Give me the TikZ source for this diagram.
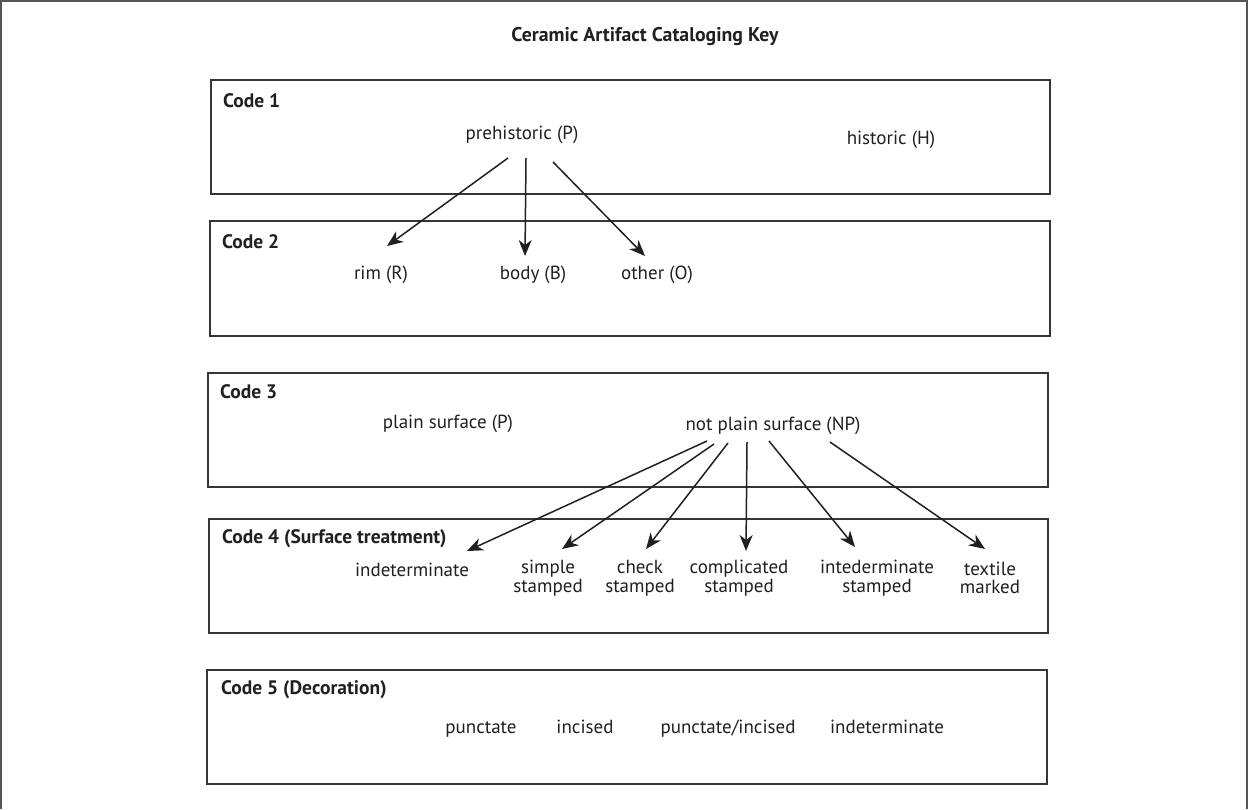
\documentclass[tikz,border=0pt]{standalone}
\usepackage{fontspec}
\setmainfont{PT Sans}
\usetikzlibrary{arrows.meta}
\definecolor{ink}{HTML}{231F20}
\definecolor{frame}{HTML}{555555}
\tikzset{
  codebox/.style={draw=ink!90, line width=1.6pt},
  codelabel/.style={anchor=west, font=\fontsize{19.5}{20}\selectfont\bfseries, text=ink, inner sep=0pt},
  item/.style={font=\fontsize{19}{18.5}\selectfont, text=ink, inner sep=0pt, align=center},
  oneline/.style={item, text height=14pt, text depth=0pt},
  arr/.style={draw=ink, line width=1.5pt, -{Stealth[length=16pt,width=13pt,inset=5pt]}}
}
\begin{document}
\begin{tikzpicture}[x=1pt,y=-1pt]
\useasboundingbox (0,0) rectangle (1249,809);
% outer frame (left, top, right)
\draw[frame, line width=2pt] (1,809) -- (1,1) -- (1247,1) -- (1247,809);
% title
\node[font=\fontsize{19.8}{20}\selectfont\bfseries, text=ink, inner sep=0pt] (title) at (645,37) {Ceramic Artifact Cataloging Key};
% boxes
\draw[codebox] (211,80) rectangle (1050,194);
\draw[codebox] (210,221) rectangle (1050,336);
\draw[codebox] (208,373) rectangle (1048,487);
\draw[codebox] (209,519) rectangle (1048,633);
\draw[codebox] (207,670) rectangle (1047,784);
% code labels
\node[codelabel] (c1) at (223,101) {Code 1};
\node[codelabel] (c2) at (222,242) {Code 2};
\node[codelabel] (c3) at (220,392) {Code 3};
\node[codelabel] (c4) at (222,539) {Code 4 (Surface treatment)};
\node[codelabel] (c5) at (221,690) {Code 5 (Decoration)};
% code 1
\node[oneline] (pre) at (522,132) {prehistoric (P)};
\node[oneline] (his) at (891,137) {historic (H)};
% code 2
\node[oneline] (rim) at (381,272) {rim (R)};
\node[oneline] (body) at (533,272) {body (B)};
\node[oneline] (other) at (657,272) {other (O)};
% code 3
\node[oneline] (plain) at (448,421) {plain surface (P)};
\node[oneline] (np) at (773,423) {not plain surface (NP)};
% code 4
\node[oneline] (ind) at (412,569) {indeterminate};
\node[item] (simple) at (548,578) {simple\\stamped};
\node[item] (check) at (640,578) {check\\stamped};
\node[item] (compl) at (739,578) {complicated\\stamped};
\node[item] (intd) at (877,578) {intederminate\\stamped};
\node[item] (tex) at (990,578) {textile\\marked};
% code 5
\node[oneline] (punct) at (481,726) {punctate};
\node[oneline] (incis) at (585,726) {incised};
\node[oneline] (pi) at (728,726) {punctate/incised};
\node[oneline] (ind5) at (887,726) {indeterminate};
% arrow anchor points
\coordinate (p1) at (508,158);
\coordinate (p2) at (526,158);
\coordinate (p3) at (553,162);
\coordinate (r1) at (387,246);
\coordinate (r2) at (525,256);
\coordinate (r3) at (645,256);
\coordinate (n1) at (707,441);
\coordinate (n2) at (714,444);
\coordinate (n3) at (728,443);
\coordinate (n4) at (747,442);
\coordinate (n5) at (769,441);
\coordinate (n6) at (830,442);
\coordinate (t1) at (467,551);
\coordinate (t2) at (562,549);
\coordinate (t3) at (646,549);
\coordinate (t4) at (746,551);
\coordinate (t5) at (855,547);
\coordinate (t6) at (985,549);
\draw[arr] (p1) -- (r1);
\draw[arr] (p2) -- (r2);
\draw[arr] (p3) -- (r3);
\draw[arr] (n1) -- (t1);
\draw[arr] (n2) -- (t2);
\draw[arr] (n3) -- (t3);
\draw[arr] (n4) -- (t4);
\draw[arr] (n5) -- (t5);
\draw[arr] (n6) -- (t6);
\end{tikzpicture}
\end{document}
